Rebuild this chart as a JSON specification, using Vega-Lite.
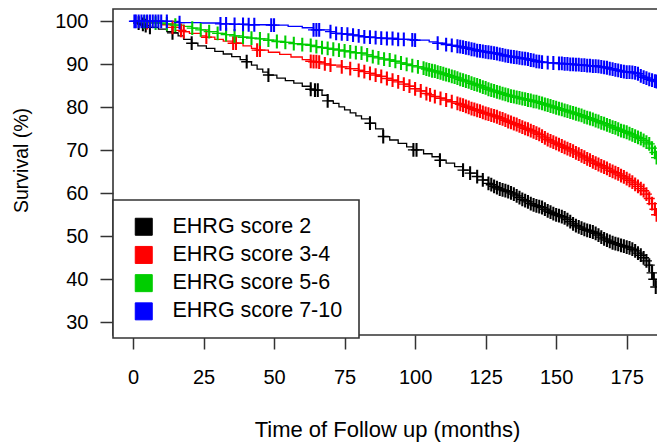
{
  "$schema": "https://vega.github.io/schema/vega-lite/v6.json",
  "width": 545,
  "height": 326,
  "autosize": {"type": "none"},
  "padding": {"left": 113, "top": 9, "right": 0, "bottom": 107},
  "background": "white",
  "config": {
    "font": "Liberation Sans",
    "view": {"stroke": "#333333", "strokeWidth": 1.6},
    "axis": {"grid": false, "domain": false, "tickColor": "#333333", "tickWidth": 1.5, "labelColor": "#000000", "titleColor": "#000000", "labelFont": "Liberation Sans", "titleFont": "Liberation Sans", "titleFontWeight": "normal"}
  },
  "data": {"values": [
    {"g":"2","t":0,"s":100,"c":0},{"g":"2","t":2,"s":99.6,"c":1},{"g":"2","t":3.5,"s":99.3,"c":1},{"g":"2","t":4.5,"s":99.0,"c":1},{"g":"2","t":6,"s":98.6,"c":1},{"g":"2","t":9,"s":98.2,"c":0},{"g":"2","t":12,"s":97.6,"c":0},{"g":"2","t":14,"s":97.3,"c":1},{"g":"2","t":16,"s":96.6,"c":0},{"g":"2","t":18,"s":95.8,"c":0},{"g":"2","t":20.8,"s":94.9,"c":1},{"g":"2","t":23,"s":94.3,"c":0},{"g":"2","t":26,"s":93.7,"c":0},{"g":"2","t":29,"s":93.0,"c":0},{"g":"2","t":32,"s":92.4,"c":0},{"g":"2","t":35,"s":91.8,"c":0},{"g":"2","t":38,"s":91.1,"c":0},{"g":"2","t":40.3,"s":90.6,"c":1},{"g":"2","t":42,"s":89.8,"c":0},{"g":"2","t":44,"s":88.9,"c":0},{"g":"2","t":46,"s":88.2,"c":0},{"g":"2","t":48,"s":87.5,"c":1},{"g":"2","t":51,"s":86.8,"c":0},{"g":"2","t":54,"s":86.2,"c":0},{"g":"2","t":57,"s":85.6,"c":0},{"g":"2","t":60,"s":84.9,"c":0},{"g":"2","t":63,"s":84.2,"c":1},{"g":"2","t":64.5,"s":84.0,"c":1},{"g":"2","t":65.5,"s":84.0,"c":1},{"g":"2","t":67,"s":82.8,"c":0},{"g":"2","t":69,"s":81.5,"c":1},{"g":"2","t":71,"s":80.9,"c":0},{"g":"2","t":73,"s":80.1,"c":0},{"g":"2","t":75,"s":79.4,"c":0},{"g":"2","t":77,"s":78.7,"c":0},{"g":"2","t":79,"s":78.0,"c":0},{"g":"2","t":81,"s":77.3,"c":0},{"g":"2","t":84,"s":76.3,"c":1},{"g":"2","t":86,"s":75.0,"c":0},{"g":"2","t":88.7,"s":73.2,"c":1},{"g":"2","t":91,"s":72.4,"c":0},{"g":"2","t":94,"s":71.6,"c":0},{"g":"2","t":97,"s":70.8,"c":0},{"g":"2","t":99.4,"s":70.1,"c":1},{"g":"2","t":100.5,"s":70.1,"c":1},{"g":"2","t":103,"s":69.2,"c":0},{"g":"2","t":106,"s":68.5,"c":0},{"g":"2","t":108.8,"s":67.7,"c":1},{"g":"2","t":111,"s":67.0,"c":0},{"g":"2","t":114,"s":66.2,"c":0},{"g":"2","t":117,"s":65.4,"c":1},{"g":"2","t":119.5,"s":64.7,"c":1},{"g":"2","t":122,"s":63.9,"c":1},{"g":"2","t":124,"s":63.1,"c":1},{"g":"2","t":126,"s":62.3,"c":1},{"g":"2","t":127,"s":62.0,"c":1},{"g":"2","t":128,"s":61.6,"c":1},{"g":"2","t":129,"s":61.3,"c":1},{"g":"2","t":130,"s":61.0,"c":1},{"g":"2","t":131,"s":60.8,"c":1},{"g":"2","t":132,"s":60.6,"c":1},{"g":"2","t":133,"s":60.4,"c":1},{"g":"2","t":134,"s":60.1,"c":1},{"g":"2","t":135,"s":59.8,"c":1},{"g":"2","t":136,"s":59.4,"c":1},{"g":"2","t":137,"s":59.0,"c":1},{"g":"2","t":138,"s":58.6,"c":1},{"g":"2","t":139,"s":58.3,"c":1},{"g":"2","t":140,"s":58.0,"c":1},{"g":"2","t":141,"s":57.6,"c":1},{"g":"2","t":142,"s":57.3,"c":1},{"g":"2","t":143,"s":57.1,"c":1},{"g":"2","t":144,"s":56.9,"c":1},{"g":"2","t":145,"s":56.7,"c":1},{"g":"2","t":146,"s":56.3,"c":1},{"g":"2","t":147,"s":55.9,"c":1},{"g":"2","t":148,"s":55.6,"c":1},{"g":"2","t":149,"s":55.3,"c":1},{"g":"2","t":150,"s":55.0,"c":1},{"g":"2","t":151,"s":54.8,"c":1},{"g":"2","t":152,"s":54.6,"c":1},{"g":"2","t":153,"s":54.3,"c":1},{"g":"2","t":154,"s":53.9,"c":1},{"g":"2","t":155,"s":53.4,"c":1},{"g":"2","t":156,"s":52.9,"c":1},{"g":"2","t":157,"s":52.5,"c":1},{"g":"2","t":158,"s":52.2,"c":1},{"g":"2","t":159,"s":51.9,"c":1},{"g":"2","t":160,"s":51.6,"c":1},{"g":"2","t":161,"s":51.4,"c":1},{"g":"2","t":162,"s":51.2,"c":1},{"g":"2","t":163,"s":51.0,"c":1},{"g":"2","t":164,"s":50.7,"c":1},{"g":"2","t":165,"s":50.3,"c":1},{"g":"2","t":166,"s":49.8,"c":1},{"g":"2","t":167,"s":49.4,"c":1},{"g":"2","t":168,"s":49.1,"c":1},{"g":"2","t":169,"s":48.8,"c":1},{"g":"2","t":170,"s":48.5,"c":1},{"g":"2","t":171,"s":48.3,"c":1},{"g":"2","t":172,"s":48.1,"c":1},{"g":"2","t":173,"s":47.9,"c":1},{"g":"2","t":174,"s":47.7,"c":1},{"g":"2","t":175,"s":47.5,"c":1},{"g":"2","t":176,"s":47.3,"c":1},{"g":"2","t":177,"s":47.0,"c":1},{"g":"2","t":178,"s":46.6,"c":1},{"g":"2","t":179,"s":46.1,"c":1},{"g":"2","t":180,"s":45.6,"c":1},{"g":"2","t":181,"s":45.0,"c":1},{"g":"2","t":182,"s":44.3,"c":1},{"g":"2","t":183,"s":43.3,"c":1},{"g":"2","t":184,"s":41.5,"c":1},{"g":"2","t":184.6,"s":40.0,"c":1},{"g":"2","t":185.3,"s":38.2,"c":1},
    {"g":"3-4","t":0,"s":100,"c":0},{"g":"3-4","t":5,"s":99.7,"c":1},{"g":"3-4","t":10,"s":99.2,"c":0},{"g":"3-4","t":14,"s":98.6,"c":1},{"g":"3-4","t":17,"s":97.9,"c":1},{"g":"3-4","t":18,"s":97.6,"c":1},{"g":"3-4","t":20,"s":97.2,"c":0},{"g":"3-4","t":24,"s":96.6,"c":0},{"g":"3-4","t":26,"s":96.3,"c":1},{"g":"3-4","t":29,"s":95.8,"c":0},{"g":"3-4","t":32,"s":95.4,"c":0},{"g":"3-4","t":35.5,"s":94.9,"c":1},{"g":"3-4","t":36.5,"s":94.9,"c":1},{"g":"3-4","t":39,"s":94.3,"c":0},{"g":"3-4","t":42,"s":93.7,"c":0},{"g":"3-4","t":44,"s":93.3,"c":1},{"g":"3-4","t":45,"s":93.3,"c":1},{"g":"3-4","t":48,"s":92.8,"c":0},{"g":"3-4","t":52,"s":92.3,"c":0},{"g":"3-4","t":56,"s":91.7,"c":0},{"g":"3-4","t":60,"s":91.1,"c":0},{"g":"3-4","t":63,"s":90.7,"c":1},{"g":"3-4","t":64,"s":90.6,"c":1},{"g":"3-4","t":65,"s":90.6,"c":1},{"g":"3-4","t":66,"s":90.5,"c":1},{"g":"3-4","t":68,"s":90.1,"c":1},{"g":"3-4","t":70,"s":89.8,"c":1},{"g":"3-4","t":74,"s":89.4,"c":1},{"g":"3-4","t":77,"s":89.0,"c":1},{"g":"3-4","t":80,"s":88.6,"c":1},{"g":"3-4","t":82,"s":88.3,"c":1},{"g":"3-4","t":84,"s":87.9,"c":1},{"g":"3-4","t":86,"s":87.5,"c":1},{"g":"3-4","t":88,"s":87.2,"c":1},{"g":"3-4","t":90,"s":86.7,"c":1},{"g":"3-4","t":92,"s":86.3,"c":1},{"g":"3-4","t":94,"s":85.9,"c":1},{"g":"3-4","t":96,"s":85.4,"c":1},{"g":"3-4","t":98,"s":84.9,"c":1},{"g":"3-4","t":100,"s":84.3,"c":1},{"g":"3-4","t":102,"s":83.8,"c":1},{"g":"3-4","t":104,"s":83.2,"c":1},{"g":"3-4","t":105.3,"s":82.9,"c":1},{"g":"3-4","t":107,"s":82.5,"c":1},{"g":"3-4","t":109,"s":82.1,"c":1},{"g":"3-4","t":111,"s":81.7,"c":1},{"g":"3-4","t":113,"s":81.3,"c":1},{"g":"3-4","t":115,"s":80.9,"c":1},{"g":"3-4","t":116,"s":80.7,"c":1},{"g":"3-4","t":117,"s":80.5,"c":1},{"g":"3-4","t":118,"s":80.2,"c":1},{"g":"3-4","t":119,"s":80.0,"c":1},{"g":"3-4","t":120,"s":79.7,"c":1},{"g":"3-4","t":121,"s":79.5,"c":1},{"g":"3-4","t":122,"s":79.3,"c":1},{"g":"3-4","t":123,"s":79.1,"c":1},{"g":"3-4","t":124,"s":78.8,"c":1},{"g":"3-4","t":125,"s":78.6,"c":1},{"g":"3-4","t":126,"s":78.4,"c":1},{"g":"3-4","t":127,"s":78.2,"c":1},{"g":"3-4","t":128,"s":78.0,"c":1},{"g":"3-4","t":129,"s":77.8,"c":1},{"g":"3-4","t":130,"s":77.5,"c":1},{"g":"3-4","t":131,"s":77.3,"c":1},{"g":"3-4","t":132,"s":77.0,"c":1},{"g":"3-4","t":133,"s":76.7,"c":1},{"g":"3-4","t":134,"s":76.5,"c":1},{"g":"3-4","t":135,"s":76.2,"c":1},{"g":"3-4","t":136,"s":76.0,"c":1},{"g":"3-4","t":137,"s":75.7,"c":1},{"g":"3-4","t":138,"s":75.4,"c":1},{"g":"3-4","t":139,"s":75.1,"c":1},{"g":"3-4","t":140,"s":74.9,"c":1},{"g":"3-4","t":141,"s":74.6,"c":1},{"g":"3-4","t":142,"s":74.3,"c":1},{"g":"3-4","t":143,"s":74.0,"c":1},{"g":"3-4","t":144,"s":73.7,"c":1},{"g":"3-4","t":145,"s":73.3,"c":1},{"g":"3-4","t":146,"s":72.9,"c":1},{"g":"3-4","t":147,"s":72.5,"c":1},{"g":"3-4","t":148,"s":72.2,"c":1},{"g":"3-4","t":149,"s":71.9,"c":1},{"g":"3-4","t":150,"s":71.6,"c":1},{"g":"3-4","t":151,"s":71.3,"c":1},{"g":"3-4","t":152,"s":71.0,"c":1},{"g":"3-4","t":153,"s":70.7,"c":1},{"g":"3-4","t":154,"s":70.4,"c":1},{"g":"3-4","t":155,"s":70.1,"c":1},{"g":"3-4","t":156,"s":69.8,"c":1},{"g":"3-4","t":157,"s":69.4,"c":1},{"g":"3-4","t":158,"s":69.1,"c":1},{"g":"3-4","t":159,"s":68.7,"c":1},{"g":"3-4","t":160,"s":68.4,"c":1},{"g":"3-4","t":161,"s":68.0,"c":1},{"g":"3-4","t":162,"s":67.7,"c":1},{"g":"3-4","t":163,"s":67.3,"c":1},{"g":"3-4","t":164,"s":67.0,"c":1},{"g":"3-4","t":165,"s":66.7,"c":1},{"g":"3-4","t":166,"s":66.4,"c":1},{"g":"3-4","t":167,"s":66.1,"c":1},{"g":"3-4","t":168,"s":65.8,"c":1},{"g":"3-4","t":169,"s":65.4,"c":1},{"g":"3-4","t":170,"s":65.1,"c":1},{"g":"3-4","t":171,"s":64.8,"c":1},{"g":"3-4","t":172,"s":64.5,"c":1},{"g":"3-4","t":173,"s":64.1,"c":1},{"g":"3-4","t":174,"s":63.8,"c":1},{"g":"3-4","t":175,"s":63.4,"c":1},{"g":"3-4","t":176,"s":63.0,"c":1},{"g":"3-4","t":177,"s":62.6,"c":1},{"g":"3-4","t":178,"s":62.1,"c":1},{"g":"3-4","t":179,"s":61.6,"c":1},{"g":"3-4","t":180,"s":61.1,"c":1},{"g":"3-4","t":181,"s":60.6,"c":1},{"g":"3-4","t":182,"s":59.8,"c":1},{"g":"3-4","t":183,"s":58.8,"c":1},{"g":"3-4","t":184,"s":57.6,"c":1},{"g":"3-4","t":185,"s":56.3,"c":1},{"g":"3-4","t":185.6,"s":55.0,"c":1},
    {"g":"5-6","t":0,"s":100,"c":0},{"g":"5-6","t":4,"s":99.8,"c":1},{"g":"5-6","t":8,"s":99.6,"c":1},{"g":"5-6","t":12,"s":99.4,"c":1},{"g":"5-6","t":15,"s":99.1,"c":1},{"g":"5-6","t":18,"s":98.8,"c":0},{"g":"5-6","t":21,"s":98.4,"c":1},{"g":"5-6","t":24,"s":98.0,"c":1},{"g":"5-6","t":27,"s":97.6,"c":1},{"g":"5-6","t":30,"s":97.2,"c":1},{"g":"5-6","t":33,"s":96.9,"c":1},{"g":"5-6","t":36,"s":96.6,"c":1},{"g":"5-6","t":39,"s":96.3,"c":1},{"g":"5-6","t":42,"s":96.1,"c":1},{"g":"5-6","t":45,"s":95.9,"c":1},{"g":"5-6","t":48,"s":95.6,"c":1},{"g":"5-6","t":51,"s":95.3,"c":1},{"g":"5-6","t":54,"s":95.1,"c":1},{"g":"5-6","t":57,"s":94.8,"c":1},{"g":"5-6","t":60,"s":94.6,"c":1},{"g":"5-6","t":63,"s":94.4,"c":1},{"g":"5-6","t":65,"s":94.1,"c":1},{"g":"5-6","t":67,"s":93.9,"c":1},{"g":"5-6","t":69,"s":93.7,"c":1},{"g":"5-6","t":71,"s":93.5,"c":1},{"g":"5-6","t":73,"s":93.3,"c":1},{"g":"5-6","t":75,"s":93.1,"c":1},{"g":"5-6","t":77,"s":92.9,"c":1},{"g":"5-6","t":79,"s":92.7,"c":1},{"g":"5-6","t":81,"s":92.6,"c":1},{"g":"5-6","t":83,"s":92.2,"c":1},{"g":"5-6","t":85,"s":91.8,"c":1},{"g":"5-6","t":87,"s":91.5,"c":1},{"g":"5-6","t":89,"s":91.2,"c":1},{"g":"5-6","t":91,"s":91.0,"c":1},{"g":"5-6","t":93,"s":90.7,"c":1},{"g":"5-6","t":95,"s":90.3,"c":1},{"g":"5-6","t":97,"s":90.0,"c":1},{"g":"5-6","t":99,"s":89.7,"c":1},{"g":"5-6","t":101,"s":89.4,"c":1},{"g":"5-6","t":103,"s":89.1,"c":1},{"g":"5-6","t":104,"s":88.9,"c":1},{"g":"5-6","t":105,"s":88.7,"c":1},{"g":"5-6","t":106,"s":88.5,"c":1},{"g":"5-6","t":107,"s":88.4,"c":1},{"g":"5-6","t":108,"s":88.2,"c":1},{"g":"5-6","t":109,"s":88.0,"c":1},{"g":"5-6","t":110,"s":87.8,"c":1},{"g":"5-6","t":111,"s":87.6,"c":1},{"g":"5-6","t":112,"s":87.4,"c":1},{"g":"5-6","t":113,"s":87.2,"c":1},{"g":"5-6","t":114,"s":87.0,"c":1},{"g":"5-6","t":115,"s":86.8,"c":1},{"g":"5-6","t":116,"s":86.5,"c":1},{"g":"5-6","t":117,"s":86.3,"c":1},{"g":"5-6","t":118,"s":86.1,"c":1},{"g":"5-6","t":119,"s":85.9,"c":1},{"g":"5-6","t":120,"s":85.6,"c":1},{"g":"5-6","t":121,"s":85.4,"c":1},{"g":"5-6","t":122,"s":85.2,"c":1},{"g":"5-6","t":123,"s":85.0,"c":1},{"g":"5-6","t":124,"s":84.7,"c":1},{"g":"5-6","t":125,"s":84.5,"c":1},{"g":"5-6","t":126,"s":84.2,"c":1},{"g":"5-6","t":127,"s":84.0,"c":1},{"g":"5-6","t":128,"s":83.8,"c":1},{"g":"5-6","t":129,"s":83.6,"c":1},{"g":"5-6","t":130,"s":83.4,"c":1},{"g":"5-6","t":131,"s":83.2,"c":1},{"g":"5-6","t":132,"s":83.0,"c":1},{"g":"5-6","t":133,"s":82.8,"c":1},{"g":"5-6","t":134,"s":82.6,"c":1},{"g":"5-6","t":135,"s":82.5,"c":1},{"g":"5-6","t":136,"s":82.3,"c":1},{"g":"5-6","t":137,"s":82.2,"c":1},{"g":"5-6","t":138,"s":82.0,"c":1},{"g":"5-6","t":139,"s":81.9,"c":1},{"g":"5-6","t":140,"s":81.7,"c":1},{"g":"5-6","t":141,"s":81.6,"c":1},{"g":"5-6","t":142,"s":81.4,"c":1},{"g":"5-6","t":143,"s":81.3,"c":1},{"g":"5-6","t":144,"s":81.1,"c":1},{"g":"5-6","t":145,"s":80.9,"c":1},{"g":"5-6","t":146,"s":80.7,"c":1},{"g":"5-6","t":147,"s":80.5,"c":1},{"g":"5-6","t":148,"s":80.3,"c":1},{"g":"5-6","t":149,"s":80.1,"c":1},{"g":"5-6","t":150,"s":79.9,"c":1},{"g":"5-6","t":151,"s":79.7,"c":1},{"g":"5-6","t":152,"s":79.5,"c":1},{"g":"5-6","t":153,"s":79.3,"c":1},{"g":"5-6","t":154,"s":79.1,"c":1},{"g":"5-6","t":155,"s":78.9,"c":1},{"g":"5-6","t":156,"s":78.7,"c":1},{"g":"5-6","t":157,"s":78.5,"c":1},{"g":"5-6","t":158,"s":78.3,"c":1},{"g":"5-6","t":159,"s":78.1,"c":1},{"g":"5-6","t":160,"s":77.8,"c":1},{"g":"5-6","t":161,"s":77.6,"c":1},{"g":"5-6","t":162,"s":77.4,"c":1},{"g":"5-6","t":163,"s":77.2,"c":1},{"g":"5-6","t":164,"s":76.9,"c":1},{"g":"5-6","t":165,"s":76.7,"c":1},{"g":"5-6","t":166,"s":76.4,"c":1},{"g":"5-6","t":167,"s":76.2,"c":1},{"g":"5-6","t":168,"s":75.9,"c":1},{"g":"5-6","t":169,"s":75.7,"c":1},{"g":"5-6","t":170,"s":75.4,"c":1},{"g":"5-6","t":171,"s":75.2,"c":1},{"g":"5-6","t":172,"s":74.9,"c":1},{"g":"5-6","t":173,"s":74.6,"c":1},{"g":"5-6","t":174,"s":74.4,"c":1},{"g":"5-6","t":175,"s":74.2,"c":1},{"g":"5-6","t":176,"s":73.9,"c":1},{"g":"5-6","t":177,"s":73.6,"c":1},{"g":"5-6","t":178,"s":73.3,"c":1},{"g":"5-6","t":179,"s":73.0,"c":1},{"g":"5-6","t":180,"s":72.7,"c":1},{"g":"5-6","t":181,"s":72.3,"c":1},{"g":"5-6","t":182,"s":71.9,"c":1},{"g":"5-6","t":183,"s":71.5,"c":1},{"g":"5-6","t":184,"s":70.5,"c":1},{"g":"5-6","t":185,"s":69.5,"c":1},{"g":"5-6","t":185.6,"s":68.3,"c":1},
    {"g":"7-10","t":0,"s":100,"c":0},{"g":"7-10","t":0.5,"s":100,"c":1},{"g":"7-10","t":1,"s":100,"c":1},{"g":"7-10","t":2,"s":100,"c":1},{"g":"7-10","t":3,"s":100,"c":1},{"g":"7-10","t":4,"s":100,"c":1},{"g":"7-10","t":5,"s":100,"c":1},{"g":"7-10","t":6,"s":100,"c":1},{"g":"7-10","t":7,"s":100,"c":1},{"g":"7-10","t":8,"s":100,"c":1},{"g":"7-10","t":9,"s":100,"c":1},{"g":"7-10","t":10,"s":100,"c":1},{"g":"7-10","t":12,"s":100,"c":1},{"g":"7-10","t":16.5,"s":99.7,"c":1},{"g":"7-10","t":24,"s":99.6,"c":0},{"g":"7-10","t":31,"s":99.4,"c":1},{"g":"7-10","t":33,"s":99.4,"c":1},{"g":"7-10","t":36,"s":99.3,"c":1},{"g":"7-10","t":39,"s":99.3,"c":1},{"g":"7-10","t":41,"s":99.2,"c":1},{"g":"7-10","t":43,"s":99.2,"c":1},{"g":"7-10","t":49,"s":99.1,"c":1},{"g":"7-10","t":50,"s":99.1,"c":1},{"g":"7-10","t":55,"s":98.8,"c":0},{"g":"7-10","t":60,"s":98.5,"c":0},{"g":"7-10","t":64,"s":98.0,"c":1},{"g":"7-10","t":65,"s":98.0,"c":1},{"g":"7-10","t":66,"s":98.0,"c":1},{"g":"7-10","t":70,"s":97.6,"c":1},{"g":"7-10","t":72,"s":97.2,"c":1},{"g":"7-10","t":74,"s":97.1,"c":1},{"g":"7-10","t":76,"s":97.0,"c":1},{"g":"7-10","t":78,"s":96.8,"c":1},{"g":"7-10","t":80,"s":96.6,"c":1},{"g":"7-10","t":82,"s":96.4,"c":1},{"g":"7-10","t":84,"s":96.3,"c":1},{"g":"7-10","t":86,"s":96.2,"c":1},{"g":"7-10","t":88,"s":96.1,"c":1},{"g":"7-10","t":90,"s":96.0,"c":1},{"g":"7-10","t":92,"s":96.0,"c":1},{"g":"7-10","t":94,"s":95.8,"c":1},{"g":"7-10","t":96,"s":95.8,"c":1},{"g":"7-10","t":99,"s":95.7,"c":1},{"g":"7-10","t":100,"s":95.6,"c":1},{"g":"7-10","t":105,"s":95.2,"c":0},{"g":"7-10","t":108,"s":94.9,"c":1},{"g":"7-10","t":111,"s":94.6,"c":1},{"g":"7-10","t":113,"s":94.4,"c":1},{"g":"7-10","t":115,"s":94.2,"c":1},{"g":"7-10","t":116,"s":94.1,"c":1},{"g":"7-10","t":117,"s":94.0,"c":1},{"g":"7-10","t":118,"s":93.8,"c":1},{"g":"7-10","t":119,"s":93.7,"c":1},{"g":"7-10","t":120,"s":93.5,"c":1},{"g":"7-10","t":121,"s":93.4,"c":1},{"g":"7-10","t":122,"s":93.2,"c":1},{"g":"7-10","t":123,"s":93.1,"c":1},{"g":"7-10","t":124,"s":93.0,"c":1},{"g":"7-10","t":125,"s":92.9,"c":1},{"g":"7-10","t":126,"s":92.8,"c":1},{"g":"7-10","t":127,"s":92.7,"c":1},{"g":"7-10","t":128,"s":92.6,"c":1},{"g":"7-10","t":129,"s":92.5,"c":1},{"g":"7-10","t":130,"s":92.3,"c":1},{"g":"7-10","t":131,"s":92.2,"c":1},{"g":"7-10","t":132,"s":92.0,"c":1},{"g":"7-10","t":133,"s":91.9,"c":1},{"g":"7-10","t":134,"s":91.8,"c":1},{"g":"7-10","t":135,"s":91.7,"c":1},{"g":"7-10","t":136,"s":91.6,"c":1},{"g":"7-10","t":137,"s":91.5,"c":1},{"g":"7-10","t":138,"s":91.4,"c":1},{"g":"7-10","t":139,"s":91.3,"c":1},{"g":"7-10","t":140,"s":91.2,"c":1},{"g":"7-10","t":141,"s":91.0,"c":1},{"g":"7-10","t":142,"s":90.9,"c":1},{"g":"7-10","t":143,"s":90.7,"c":1},{"g":"7-10","t":144,"s":90.6,"c":1},{"g":"7-10","t":145,"s":90.5,"c":1},{"g":"7-10","t":147,"s":90.4,"c":1},{"g":"7-10","t":149,"s":90.3,"c":1},{"g":"7-10","t":151,"s":90.2,"c":1},{"g":"7-10","t":152,"s":90.2,"c":1},{"g":"7-10","t":153,"s":90.1,"c":1},{"g":"7-10","t":154,"s":90.1,"c":1},{"g":"7-10","t":155,"s":90.0,"c":1},{"g":"7-10","t":156,"s":90.0,"c":1},{"g":"7-10","t":157,"s":89.9,"c":1},{"g":"7-10","t":158,"s":89.9,"c":1},{"g":"7-10","t":159,"s":89.8,"c":1},{"g":"7-10","t":160,"s":89.8,"c":1},{"g":"7-10","t":161,"s":89.7,"c":1},{"g":"7-10","t":162,"s":89.7,"c":1},{"g":"7-10","t":163,"s":89.6,"c":1},{"g":"7-10","t":164,"s":89.6,"c":1},{"g":"7-10","t":165,"s":89.5,"c":1},{"g":"7-10","t":166,"s":89.4,"c":1},{"g":"7-10","t":167,"s":89.3,"c":1},{"g":"7-10","t":168,"s":89.2,"c":1},{"g":"7-10","t":169,"s":89.0,"c":1},{"g":"7-10","t":170,"s":88.9,"c":1},{"g":"7-10","t":171,"s":88.7,"c":1},{"g":"7-10","t":172,"s":88.6,"c":1},{"g":"7-10","t":173,"s":88.4,"c":1},{"g":"7-10","t":174,"s":88.3,"c":1},{"g":"7-10","t":175,"s":88.2,"c":1},{"g":"7-10","t":176,"s":88.2,"c":1},{"g":"7-10","t":177,"s":88.1,"c":1},{"g":"7-10","t":178,"s":88.0,"c":1},{"g":"7-10","t":179,"s":87.8,"c":1},{"g":"7-10","t":180,"s":87.3,"c":1},{"g":"7-10","t":181,"s":87.0,"c":1},{"g":"7-10","t":182,"s":86.8,"c":1},{"g":"7-10","t":183,"s":86.5,"c":1},{"g":"7-10","t":184,"s":86.3,"c":1},{"g":"7-10","t":185,"s":86.1,"c":1},{"g":"7-10","t":185.6,"s":86.0,"c":1}
  ]},
  "encoding": {
    "x": {"field": "t", "type": "quantitative",
      "scale": {"domain": [-7.09, 186.1], "zero": false, "nice": false},
      "axis": {"values": [0, 25, 50, 75, 100, 125, 150, 175], "tickSize": 14, "labelFontSize": 20, "labelPadding": 18, "labelFlush": false, "title": "Time of Follow up (months)", "titleFontSize": 22, "titleX": 274, "titleY": 94, "titleAlign": "center", "titleBaseline": "middle"}},
    "y": {"field": "s", "type": "quantitative",
      "scale": {"domain": [27.05, 102.86], "zero": false, "nice": false},
      "axis": {"values": [30, 40, 50, 60, 70, 80, 90, 100], "tickSize": 13, "labelFontSize": 20, "labelPadding": 12, "labelFlush": false, "title": "Survival (%)", "titleFontSize": 19.5, "titleAngle": -90, "titleX": -92, "titleY": 151, "titleAlign": "center", "titleBaseline": "middle"}},
    "color": {"field": "g", "type": "nominal",
      "scale": {"domain": ["2", "3-4", "5-6", "7-10"], "range": ["#000000", "#FF0000", "#00CD00", "#0000FF"]}}
  },
  "layer": [
    {
      "mark": {"type": "line", "interpolate": "step-after", "strokeWidth": 1.3, "clip": true},
      "encoding": {
        "color": {"field": "g", "type": "nominal",
          "scale": {"domain": ["2", "3-4", "5-6", "7-10"], "range": ["#000000", "#FF0000", "#00CD00", "#0000FF"]},
          "legend": {"orient": "none", "legendX": 0, "legendY": 191, "title": null,
            "labelExpr": "'EHRG score ' + datum.label", "labelLimit": 400,
            "symbolType": "square", "symbolSize": 289, "symbolStrokeWidth": 1, "symbolStrokeColor": "#000000",
            "labelFontSize": 21.5, "labelFont": "Liberation Sans", "labelColor": "#000000", "labelOffset": 18,
            "rowPadding": 5.2, "padding": 16, "symbolOffset": 4,
            "strokeColor": "#333333", "fillColor": "#FFFFFF",
            "encode": {"symbols": {"update": {"fill": {"scale": "color", "field": "value"}, "stroke": {"value": "#222222"}, "strokeWidth": {"value": 1}, "opacity": {"value": 1}}},
                       "legend": {"update": {"strokeWidth": {"value": 1.6}}}}}
        }
      }
    },
    {
      "transform": [{"filter": "datum.c == 1"}],
      "mark": {"type": "point", "shape": "M-0.15,-1L0.15,-1L0.15,-0.1L0.8,-0.1L0.8,0.1L0.15,0.1L0.15,1L-0.15,1L-0.15,0.1L-0.8,0.1L-0.8,-0.1L-0.15,-0.1Z", "filled": true, "size": 190, "strokeWidth": 0, "opacity": 1, "clip": true},
      "encoding": {"color": {"field": "g", "type": "nominal", "legend": null}}
    }
  ]
}
